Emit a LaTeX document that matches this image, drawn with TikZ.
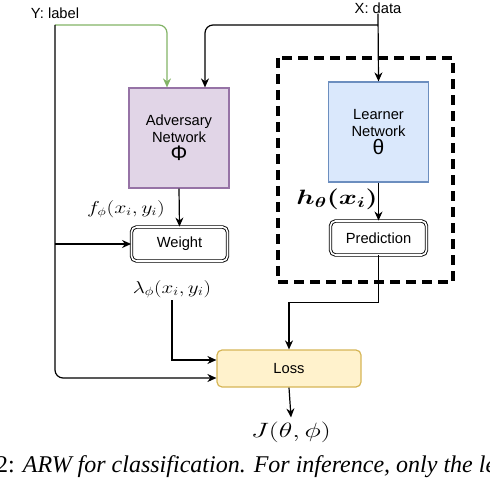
\documentclass[tikz,border=0pt]{standalone}
\usepackage{fontspec}
\setmainfont{Liberation Sans}
\newfontfamily\capfont{Liberation Serif}
\usetikzlibrary{arrows.meta}
\definecolor{advfill}{HTML}{E1D5E7}
\definecolor{advline}{HTML}{9673A6}
\definecolor{lrnfill}{HTML}{DAE8FC}
\definecolor{lrnline}{HTML}{6C8EBF}
\definecolor{lossfill}{HTML}{FFF2CC}
\definecolor{lossline}{HTML}{D6B656}
\definecolor{grn}{HTML}{82B366}
\tikzset{
  arr/.style={line width=1.2pt, -{Stealth[length=9pt,width=8pt]}},
  netbox/.style={draw, line width=1.2pt, minimum width=100pt, minimum height=100pt, align=center, font=\fontsize{14.7}{17}\selectfont, inner sep=0pt},
  dblbox/.style={draw, double, double distance=1.6pt, line width=0.9pt, rounded corners=5pt, minimum width=96pt, minimum height=34pt, font=\fontsize{14.7}{17}\selectfont, inner sep=0pt},
  lbl/.style={font=\fontsize{14.7}{17}\selectfont, inner sep=0pt},
  mlbl/.style={inner sep=0pt},
}
\begin{document}
\begin{tikzpicture}[x=1pt,y=-1pt]
\useasboundingbox (0,0) rectangle (490,478);
% dashed frame
\draw[line width=3.2pt, dash pattern=on 10pt off 6pt] (278,58) rectangle (453,282);
% nodes
\node[lbl] (Ylab) at (55,13) {Y: label};
\node[lbl] (Xdat) at (378,8) {X: data};
\node[netbox, fill=advfill, draw=advline] (adv) at (179,138) {Adversary\\Network\\[1pt]{\fontsize{21}{21}\selectfont Φ}};
\node[netbox, fill=lrnfill, draw=lrnline] (lrn) at (378.5,132) {Learner\\Network\\[1pt]{\fontsize{21}{21}\selectfont θ}};
\node[dblbox] (pred) at (378.5,238) {Prediction};
\node[dblbox] (wgt) at (179.5,244) {Weight};
\node[draw=lossline, fill=lossfill, line width=1.2pt, rounded corners=5pt, minimum width=144pt, minimum height=37pt, font=\fontsize{14.7}{17}\selectfont, inner sep=0pt] (loss) at (289,368.5) {Loss};
\node[mlbl, font=\fontsize{16}{16}\selectfont] (flab) at (126,209) {\scalebox{1.26}[1]{$f_\phi(x_i,y_i)$}};
\node[mlbl, font=\fontsize{20}{20}\selectfont] (hlab) at (337,199) {\scalebox{1.33}[1]{\boldmath$h_\theta(x_i)$}};
\node[mlbl, font=\fontsize{17}{17}\selectfont] (lam) at (172,289) {\scalebox{1.22}[1]{$\lambda_\phi(x_i,y_i)$}};
\node[mlbl, font=\fontsize{20}{20}\selectfont] (J) at (291,432) {\scalebox{1.35}[1]{$J(\theta,\phi)$}};
\coordinate (yt) at (55,25);
\coordinate (xj) at (378,25);
\coordinate (yb) at (55,244);
% connectors
\draw[arr, grn, rounded corners=8pt] (yt) -| ([xshift=-12pt]adv.north);
\draw[arr, rounded corners=8pt] (yt) |- ([yshift=-9.5pt]loss.west);
\draw[arr] (yb) -- (wgt.west);
\draw[arr, rounded corners=8pt] (xj) -| ([xshift=26pt]adv.north);
\draw[arr] (Xdat.south) -- (lrn.north);
\draw[arr] (adv.south) -- (wgt.north);
\draw[arr] (lrn.south) -- (pred.north);
\draw[arr] ([yshift=-2pt]lam.south) |- ([yshift=8.5pt]loss.west);
\draw[arr] (pred.south) -- ++(0,47) -| (loss.north);
\draw[arr] (loss.south) -- ([yshift=4pt]J.north);
% caption fragment
\begin{scope}
\clip (0,0) rectangle (490,478);
\node[anchor=base west, inner sep=0pt, font=\capfont\fontsize{24}{24}\selectfont] (cap) at (-4,472) {2: \textit{ARW for classification. For inference, only the le}};
\end{scope}
\end{tikzpicture}
\end{document}
